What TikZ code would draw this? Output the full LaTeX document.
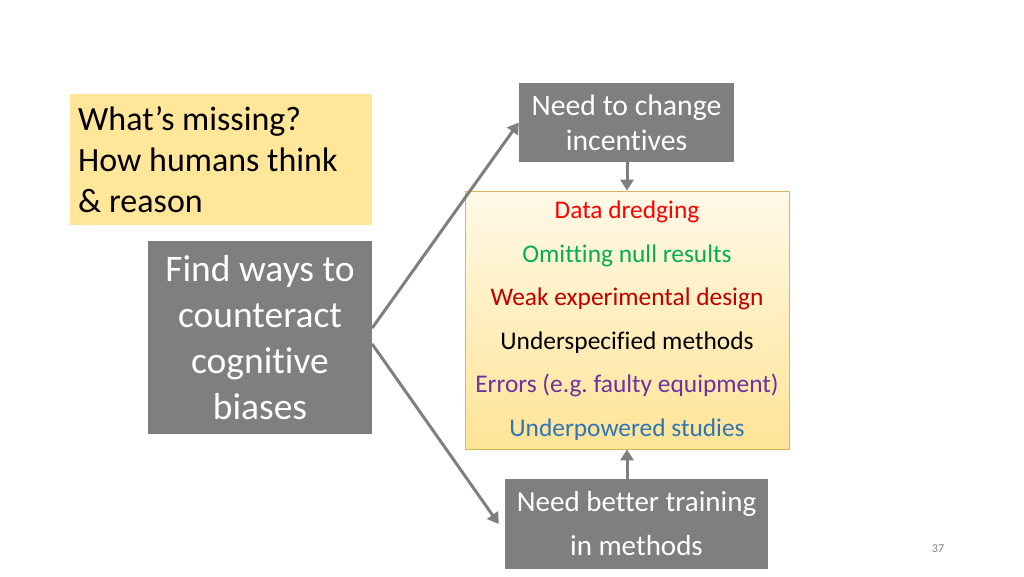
\documentclass[tikz,border=0pt]{standalone}
\usepackage{fontspec}
\setmainfont{Carlito}[Ligatures={NoCommon}]
\usetikzlibrary{arrows.meta}
\frenchspacing
\definecolor{boxgray}{RGB}{127,127,127}
\definecolor{paleyellow}{RGB}{255,230,153}
\definecolor{gradtop}{RGB}{255,249,232}
\definecolor{gradbot}{RGB}{255,228,150}
\definecolor{goldedge}{RGB}{214,182,86}
\definecolor{cred}{RGB}{255,0,0}
\definecolor{cgreen}{RGB}{0,176,80}
\definecolor{cdred}{RGB}{192,0,0}
\definecolor{cpurple}{RGB}{112,48,160}
\definecolor{cblue}{RGB}{46,117,182}
\tikzset{
  graybox/.style={fill=boxgray, text=white, inner sep=0pt, align=center},
  listitem/.style={font=\fontsize{25.4}{30}\selectfont, text height=0.72em, text depth=0.22em, inner sep=0pt},
  conn/.style={draw=boxgray, line width=3pt, -{Triangle[length=11pt,width=13pt]}}
}
\begin{document}
\begin{tikzpicture}[x=1pt,y=-1pt]
\useasboundingbox (0,0) rectangle (1024,576);
% yellow question box
\node[fill=paleyellow, minimum width=302pt, minimum height=131pt, inner sep=0pt] (ques) at (221,159.5) {};
\node[anchor=west, align=left, inner sep=0pt, font=\fontsize{34}{41}\selectfont] (questext) at (78,160) {What’s missing?\\How humans think\\\& reason};
% left gray box
\node[graybox, minimum width=224pt, minimum height=193pt, font=\fontsize{37.5}{46}\selectfont] (find) at (260,337.5) {Find ways to\\counteract\\cognitive\\biases};
% top gray box
\node[graybox, minimum width=215pt, minimum height=79pt, font=\fontsize{29.7}{35}\selectfont] (inc) at (626.5,122.5) {Need to change\\incentives};
% bottom gray box
\node[graybox, minimum width=263pt, minimum height=90pt, font=\fontsize{29}{44}\selectfont] (train) at (636.5,524) {Need better training\\in methods};
% middle list box
\node[draw=goldedge, line width=0.8pt, top color=gradtop, bottom color=gradbot, minimum width=324pt, minimum height=258pt, inner sep=0pt] (list) at (627,320) {};
\node[listitem, text=cred] (l1) at (627,216) {Data dredging};
\node[listitem, text=cgreen] (l2) at (627,259.5) {Omitting null results};
\node[listitem, text=cdred] (l3) at (627,303) {Weak experimental design};
\node[listitem, text=black] (l4) at (627,346.5) {Underspecified methods};
\node[listitem, text=cpurple] (l5) at (627,390) {Errors (e.g.\ faulty equipment)};
\node[listitem, text=cblue] (l6) at (627,434) {Underpowered studies};
% connectors
\draw[conn] ([yshift=9.5pt]find.east) -- (inc.west);
\draw[conn] ([yshift=-6.5pt]find.east) -- ([xshift=-6pt]train.west);
\draw[conn] (inc.south -| list.north) -- (list.north);
\draw[conn] (list.south |- train.north) -- (list.south);
% page number
\node[text=boxgray, font=\fontsize{12}{14}\selectfont, inner sep=0pt] (pnum) at (938,549) {37};
\end{tikzpicture}
\end{document}
